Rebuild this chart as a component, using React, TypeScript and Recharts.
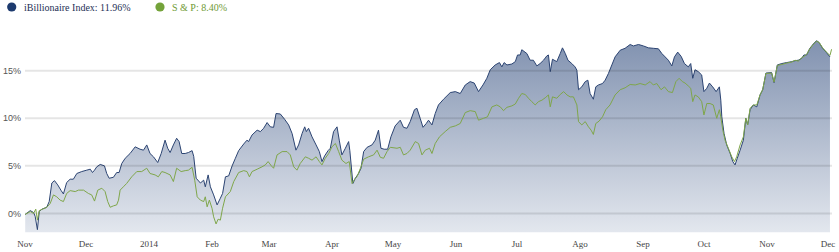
import React from 'react';
import { ComposedChart, Area, Line, XAxis, YAxis, ReferenceLine } from 'recharts';

// Day offsets from 1 Nov 2013
const monthTicks = [0, 30, 61, 92, 120, 151, 181, 212, 242, 273, 304, 334, 365, 395];
const monthLabels = ['Nov', 'Dec', '2014', 'Feb', 'Mar', 'Apr', 'May', 'Jun', 'Jul', 'Ago', 'Sep', 'Oct', 'Nov', 'Dec'];
const yTicks = [0, 5, 10, 15];

const legendIb = 'iBillionaire Index: 11.96%';
const legendSp = 'S & P: 8.40%';

// [day, % return]
const ibillionaire: [number, number][] = [
  [0.1, -0.1], [2.6, 0.3], [4.2, 0.1], [5.0, -0.3], [6.1, -1.7], [7.0, 0.2], [8.3, 0.45], [10.7, 0.65],
  [11.9, 1.25], [13.2, 3.2], [14.5, 3.45], [16.1, 3.0], [17.8, 2.4], [18.9, 2.05], [20.5, 3.25], [22.2, 3.6],
  [23.8, 3.6], [25.5, 4.2], [27.9, 4.4], [30.4, 4.55], [32.1, 4.65], [33.2, 4.3], [34.2, 4.55], [35.3, 4.9],
  [37.0, 5.15], [39.1, 5.0], [40.2, 4.2], [41.4, 3.7], [43.5, 3.8], [45.1, 4.3], [46.3, 4.3], [47.6, 5.25],
  [49.3, 5.8], [51.7, 6.3], [54.2, 7.0], [56.6, 6.75], [58.3, 6.65], [59.9, 7.2], [61.5, 6.3], [63.2, 5.95],
  [65.3, 5.35], [67.0, 6.3], [68.9, 7.7], [70.2, 6.85], [71.4, 6.4], [73.0, 7.2], [74.6, 7.9], [75.8, 7.55],
  [77.1, 6.3], [78.8, 6.3], [80.4, 6.4], [82.2, 6.6], [83.0, 6.0], [84.2, 3.7], [86.3, 3.2], [87.9, 3.5],
  [88.7, 2.8], [90.1, 4.05], [91.2, 2.8], [92.8, 1.95], [94.5, 0.9], [96.1, 1.6], [97.2, 2.1], [98.6, 3.85],
  [100.2, 3.95], [101.9, 5.0], [103.5, 5.8], [105.1, 6.6], [107.6, 7.3], [109.2, 7.7], [110.0, 7.55], [111.7, 8.25],
  [114.2, 8.75], [115.8, 8.6], [117.4, 8.95], [119.1, 9.55], [120.7, 9.1], [122.3, 9.05], [123.5, 10.5], [125.6, 10.45],
  [127.7, 9.9], [129.7, 9.3], [131.4, 8.4], [133.3, 6.65], [134.6, 7.2], [136.3, 8.4], [137.6, 9.1], [138.4, 8.6],
  [139.5, 8.95], [141.2, 8.05], [143.2, 7.2], [144.8, 6.5], [146.1, 5.45], [147.4, 6.05], [149.1, 6.6], [150.2, 6.85],
  [151.8, 8.6], [153.5, 9.1], [154.6, 7.7], [155.9, 6.15], [157.6, 6.85], [159.2, 7.55], [159.8, 6.6], [161.3, 3.15],
  [162.5, 3.7], [164.1, 4.2], [165.3, 4.75], [166.6, 6.5], [168.3, 6.95], [170.7, 7.2], [172.3, 7.7], [173.9, 8.75],
  [175.1, 6.85], [176.7, 6.75], [178.4, 6.75], [180.0, 8.05], [182.1, 9.2], [184.6, 9.8], [186.2, 9.05], [187.9, 8.95],
  [189.5, 9.65], [191.6, 10.9], [192.8, 11.05], [194.4, 10.0], [195.8, 9.05], [197.4, 9.45], [198.5, 9.8], [200.2, 9.3],
  [201.8, 10.5], [203.4, 11.4], [205.9, 12.0], [209.2, 12.7], [211.7, 12.8], [214.1, 12.6], [216.6, 13.5], [219.0, 13.85],
  [221.0, 13.7], [223.1, 12.8], [225.3, 13.5], [227.2, 14.2], [228.9, 15.1], [231.3, 15.6], [233.4, 15.85], [234.6, 15.4],
  [235.7, 15.85], [237.1, 15.6], [239.5, 15.7], [241.2, 15.95], [242.3, 16.65], [243.6, 16.65], [244.4, 17.2], [246.9, 16.8],
  [248.5, 16.1], [250.1, 16.1], [251.8, 15.5], [253.4, 15.75], [255.1, 16.1], [256.7, 16.55], [257.5, 16.65], [258.4, 14.9],
  [259.5, 16.2], [261.6, 15.95], [263.3, 16.8], [264.4, 17.4], [265.8, 16.8], [267.1, 16.1], [269.0, 15.75], [270.6, 15.4],
  [271.5, 15.05], [272.3, 13.0], [273.9, 13.3], [275.6, 13.85], [276.9, 14.0], [278.0, 12.6], [279.6, 12.0], [280.8, 13.3],
  [282.1, 13.5], [284.1, 13.65], [285.4, 14.0], [287.0, 14.7], [288.7, 15.6], [290.3, 16.45], [292.8, 17.15], [295.2, 17.35],
  [297.7, 17.75], [299.3, 17.6], [301.8, 17.75], [304.2, 17.6], [306.7, 17.4], [309.1, 17.35], [311.6, 17.3], [313.3, 16.8],
  [314.9, 16.45], [316.5, 16.1], [318.2, 15.5], [319.5, 16.45], [321.1, 16.95], [322.8, 16.5], [324.4, 15.75], [326.3, 15.4],
  [327.5, 15.75], [328.5, 14.2], [329.6, 15.1], [331.2, 14.9], [332.9, 14.55], [334.0, 12.8], [335.4, 13.15], [336.7, 13.7],
  [338.3, 13.3], [340.0, 12.8], [341.6, 13.3], [342.3, 11.9], [342.8, 10.15], [343.9, 8.4], [345.2, 7.2], [346.9, 6.3],
  [348.2, 5.45], [349.3, 5.1], [350.4, 5.8], [351.8, 6.65], [353.4, 7.7], [354.6, 10.0], [355.5, 9.3], [356.7, 10.9],
  [358.3, 11.4], [360.0, 11.2], [361.6, 12.45], [362.9, 13.0], [364.5, 14.75], [367.3, 14.8], [368.5, 13.75], [370.1, 15.6],
  [372.3, 15.75], [374.7, 15.85], [377.2, 15.95], [378.8, 16.05], [380.4, 16.1], [382.1, 16.3], [383.2, 16.65], [384.5, 16.65],
  [386.1, 17.35], [387.8, 17.8], [389.4, 18.15], [390.7, 17.95], [392.4, 17.35], [394.3, 16.9], [396.0, 16.45],
];

const sp500: [number, number][] = [
  [0.1, -0.1], [2.6, 0.2], [4.2, 0.0], [5.3, 0.45], [6.1, -0.7], [7.0, 0.3], [8.6, 0.45], [10.7, 0.65],
  [12.4, 1.05], [14.0, 1.95], [15.6, 1.75], [17.3, 1.4], [18.9, 1.25], [20.5, 2.1], [22.2, 2.4], [24.7, 2.3],
  [26.3, 2.45], [28.8, 2.45], [31.2, 2.1], [32.8, 1.95], [34.2, 1.3], [35.8, 2.45], [37.8, 2.65], [39.4, 2.3],
  [40.7, 1.25], [41.9, 0.65], [43.5, 0.8], [45.1, 0.9], [46.0, 1.4], [46.8, 2.45], [48.4, 2.8], [50.0, 3.15],
  [52.5, 3.85], [55.0, 4.4], [57.4, 4.4], [59.9, 4.75], [61.5, 4.2], [64.0, 4.05], [65.6, 3.85], [67.3, 4.4],
  [68.9, 4.3], [71.4, 4.05], [73.0, 3.35], [74.6, 4.75], [76.8, 4.4], [78.8, 4.5], [80.4, 4.55], [82.2, 4.85],
  [83.5, 3.5], [84.7, 1.75], [86.3, 1.4], [87.9, 1.25], [88.7, 1.75], [89.6, 0.7], [90.7, 1.4], [92.0, 0.55],
  [92.8, -0.35], [94.0, -1.1], [95.0, -0.6], [96.1, -0.7], [97.2, 0.55], [98.6, 1.75], [101.0, 2.3], [102.7, 3.35],
  [105.1, 4.3], [107.6, 4.5], [109.2, 4.4], [110.4, 3.85], [111.7, 4.4], [114.2, 4.65], [116.6, 4.9], [118.2, 5.1],
  [119.6, 5.45], [121.2, 5.0], [122.3, 4.75], [124.0, 6.15], [126.5, 6.5], [128.9, 6.5], [130.5, 6.15], [132.2, 4.9],
  [133.8, 4.55], [135.4, 5.25], [137.9, 5.95], [139.5, 5.8], [141.2, 5.6], [143.2, 5.95], [144.8, 5.45], [146.1, 5.1],
  [147.7, 5.8], [149.4, 6.3], [151.0, 7.0], [152.7, 7.35], [154.3, 6.5], [155.9, 5.6], [157.9, 5.25], [159.5, 5.45],
  [160.9, 3.15], [162.5, 3.7], [163.3, 3.85], [165.3, 4.9], [166.6, 5.7], [169.0, 5.95], [171.5, 6.15], [173.2, 6.65],
  [174.8, 5.9], [176.4, 5.8], [178.1, 6.5], [179.7, 6.95], [183.0, 6.85], [184.6, 6.95], [186.2, 6.15], [187.9, 6.3],
  [189.5, 6.65], [192.0, 7.55], [193.6, 7.35], [195.3, 6.15], [196.9, 6.65], [199.0, 6.85], [200.2, 6.3], [201.8, 7.35],
  [203.9, 8.05], [206.7, 8.6], [209.2, 9.05], [211.7, 9.2], [214.1, 9.45], [216.6, 10.6], [219.0, 10.8], [221.5, 10.7],
  [223.1, 9.8], [225.6, 10.0], [227.5, 10.15], [229.7, 11.2], [232.1, 11.4], [233.8, 11.2], [235.4, 10.8], [237.1, 11.15],
  [239.5, 11.3], [241.2, 11.5], [242.8, 12.1], [244.4, 12.6], [246.1, 12.5], [247.7, 12.1], [249.3, 11.75], [251.0, 11.4],
  [252.6, 11.75], [254.3, 11.9], [255.9, 12.15], [257.5, 12.45], [258.4, 11.2], [259.5, 12.25], [261.6, 12.1], [263.3, 12.5],
  [265.0, 12.8], [266.6, 12.45], [268.2, 12.25], [269.8, 12.25], [271.5, 11.4], [272.3, 9.65], [273.9, 9.3], [275.6, 9.65],
  [277.2, 9.1], [278.5, 8.75], [279.6, 8.3], [280.8, 9.45], [282.4, 9.7], [284.1, 10.15], [285.7, 10.9], [287.8, 11.4],
  [290.3, 12.45], [292.8, 13.0], [295.2, 13.2], [297.7, 13.55], [300.2, 13.5], [302.6, 13.65], [305.1, 13.5], [307.5, 13.85],
  [309.1, 13.5], [310.8, 13.65], [312.9, 13.0], [314.6, 13.3], [316.5, 12.8], [318.5, 12.7], [320.2, 13.85], [321.8, 14.2],
  [323.4, 13.85], [324.7, 13.7], [326.3, 13.4], [327.5, 13.15], [328.5, 11.75], [329.6, 12.45], [331.2, 12.25], [332.9, 11.75],
  [334.0, 10.35], [335.4, 11.55], [337.0, 11.55], [338.6, 11.4], [340.3, 10.0], [341.6, 10.9], [342.3, 10.15], [343.3, 8.75],
  [344.4, 7.7], [346.0, 6.85], [347.7, 5.95], [349.0, 5.45], [350.1, 5.95], [351.8, 7.2], [353.4, 8.05], [354.6, 10.0],
  [355.5, 9.3], [356.7, 11.05], [358.3, 11.4], [360.0, 11.4], [361.6, 12.45], [362.9, 13.0], [364.5, 14.7], [367.3, 14.75],
  [368.5, 13.8], [370.1, 15.55], [372.3, 15.65], [374.7, 15.8], [377.2, 15.9], [378.8, 16.1], [380.4, 16.0], [382.1, 16.35],
  [383.2, 16.5], [384.5, 16.7], [386.1, 17.3], [387.8, 17.75], [389.4, 18.1], [390.7, 17.95], [392.4, 17.4], [394.3, 16.95],
  [396.0, 16.6], [396.8, 17.25],
];

const ibData = ibillionaire.map(([d, v]) => ({ d, v }));
const spData = sp500.map(([d, v]) => ({ d, v }));

export default function App() {
  return (
    <div style={{ position: 'absolute', left: 0, top: 0, width: 839, height: 252, background: '#fff' }}>
      <ComposedChart width={839} height={252} margin={{ top: 32.6, right: 7, bottom: 0, left: 0 }}>
        <defs>
          <linearGradient id="ibFill" x1="0" y1="0" x2="0" y2="1">
            <stop offset="0%" stopColor="#8192b0" />
            <stop offset="100%" stopColor="#e3e7ee" />
          </linearGradient>
        </defs>
        <XAxis
          type="number"
          dataKey="d"
          domain={[0, 397]}
          ticks={monthTicks}
          interval={0}
          allowDataOverflow
          tickFormatter={(t: number) => monthLabels[monthTicks.indexOf(t)]}
          axisLine={false}
          tickLine={false}
          tickSize={0}
          tickMargin={8}
          height={19.5}
          tick={{ fontSize: 9, fill: '#444', fontFamily: 'Liberation Serif, serif' }}
        />
        <YAxis
          type="number"
          domain={[-2, 19]}
          ticks={yTicks}
          interval={0}
          allowDataOverflow
          tickFormatter={(v: number) => `${v}%`}
          axisLine={false}
          tickLine={false}
          tickSize={0}
          tickMargin={4}
          width={25}
          tick={{ fontSize: 9, fill: '#555', fontFamily: 'Liberation Sans, Arial, sans-serif' }}
        />
        <Area
          data={ibData}
          dataKey="v"
          type="linear"
          baseValue="dataMin"
          stroke="#2c4472"
          strokeWidth={1}
          fill="url(#ibFill)"
          fillOpacity={1}
          isAnimationActive={false}
          dot={false}
          activeDot={false}
        />
        {yTicks.map((t) => (
          <ReferenceLine key={t} y={t} stroke="rgba(0,0,0,0.1)" strokeWidth={2} />
        ))}
        <Line
          data={spData}
          dataKey="v"
          type="linear"
          stroke="#7fa64a"
          strokeWidth={1}
          dot={false}
          activeDot={false}
          isAnimationActive={false}
        />
      </ComposedChart>
      <svg width={839} height={20} style={{ position: 'absolute', left: 0, top: 0 }}>
        <circle cx={11.7} cy={7} r={4.6} fill="#1d3a6e" />
        <text x={24} y={10.5} fontSize={10} fontFamily="Liberation Serif, serif" fill="#1d2f55">{legendIb}</text>
        <circle cx={160} cy={7} r={4.6} fill="#74a33a" />
        <text x={172} y={10.5} fontSize={10} fontFamily="Liberation Serif, serif" fill="#6f9a35">{legendSp}</text>
      </svg>
    </div>
  );
}
